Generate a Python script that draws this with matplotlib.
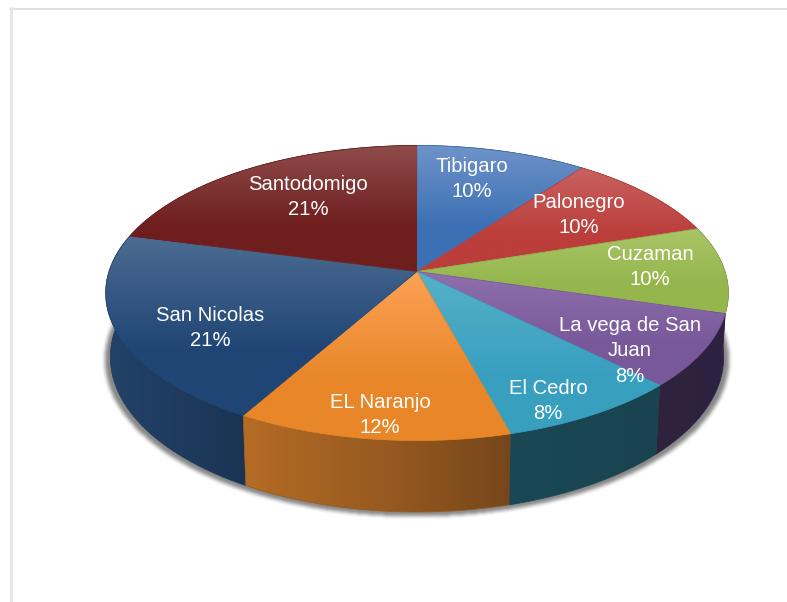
"""Perspective 3D pie of the share per locality."""

import matplotlib

matplotlib.use("Agg")
import matplotlib.pyplot as plt
import numpy as np
from matplotlib.colors import LinearSegmentedColormap, to_hex, to_rgb
from matplotlib.lines import Line2D
from matplotlib.path import Path
from matplotlib.patches import PathPatch

plt.rcParams["font.family"] = ["Liberation Sans", "DejaVu Sans"]

NAMES = ["Tibigaro", "Palonegro", "Cuzaman", "La vega de San\nJuan", "El Cedro",
         "EL Naranjo", "San Nicolas", "Santodomigo"]
SHARES = [10.2, 9.8, 9.5, 8.0, 8.3, 12.4, 20.9, 20.9]
PERCENT_LABELS = ["10%", "10%", "10%", "8%", "8%", "12%", "21%", "21%"]
FACE_LIGHT = ["#6f93c9", "#c8625f", "#a9c668", "#8f70ad", "#56b1ca", "#fca256", "#4c6c92", "#8f4c4b"]
FACE_DARK = ["#3c70b4", "#bb3e3b", "#95b64d", "#785899", "#389fbf", "#e88628", "#1f4575", "#6e1e1d"]
# walls of the back slices never show, Cuzaman's only as a sliver beside La vega
WALL_LEFT = ["#2c4a72", "#6e2320", "#2d2140", "#30233f", "#1a4855", "#b56c25", "#224268", "#4d1615"]
WALL_RIGHT = ["#2c4a72", "#6e2320", "#2d2140", "#2d2140", "#18444f", "#76461a", "#1a3353", "#4d1615"]
LABEL_CENTERS = [(472, 179), (579, 215), (650, 267), (630, 351), (548, 401),
                 (380, 415), (210, 328), (308, 197)]

CX, CY = 417.0, 271.5
TILT = 0.1458
GX, GY = 308.0, 144.4


def rim(theta):
    # theta is clockwise from 12 o'clock, on the perspective circle
    u, v = np.sin(theta), np.cos(theta)
    return CX + GX * u / (1 + TILT * v), CY - GY * v / (1 + TILT * v)


def lower(x, y):
    return CX + 0.985 * (x - CX), CY + 63 + 1.05 * (y - CY)


def gradient_fill(ax, xs, ys, colors, stop=0.55, horizontal=False, zorder=2):
    path = Path(np.column_stack([xs, ys]))
    cmap = LinearSegmentedColormap.from_list("g", list(zip([0, stop, 1], colors)))
    ramp = np.linspace(0, 1, 128)
    ramp = ramp[None, :] if horizontal else ramp[:, None]
    extent = (min(xs), max(xs), max(ys), min(ys))
    image = ax.imshow(ramp, cmap=cmap, extent=extent, aspect="auto", zorder=zorder,
                      interpolation="bilinear", vmin=0, vmax=1)
    patch = PathPatch(path, transform=ax.transData, facecolor="none",
                      edgecolor=colors[1], linewidth=0.5, zorder=zorder)
    ax.add_patch(patch)
    image.set_clip_path(patch)


def blur(mask, width):
    kernel = np.hanning(width)
    kernel /= kernel.sum()
    mask = np.apply_along_axis(np.convolve, 0, mask, kernel, mode="same")
    return np.apply_along_axis(np.convolve, 1, mask, kernel, mode="same")


def main():
    fig = plt.figure(figsize=(7.87, 6.02), dpi=100)
    ax = fig.add_axes([0, 0, 1, 1])
    ax.axis("off")

    edges = 2 * np.pi * np.concatenate([[0], np.cumsum(SHARES)]) / sum(SHARES)

    # soft shadow under the base
    circle = np.linspace(0, 2 * np.pi, 361)
    base_x, base_y = lower(*rim(circle))
    shadow_x = CX + 1.018 * (base_x - CX)
    shadow_y = CY + 1.01 * (base_y - CY) + 2
    grid_x, grid_y = np.meshgrid(np.arange(787) + 0.5, np.arange(602) + 0.5)
    inside = Path(np.column_stack([shadow_x, shadow_y])).contains_points(
        np.column_stack([grid_x.ravel(), grid_y.ravel()])
    ).reshape(grid_x.shape)
    alpha = blur(inside.astype(float), 11) * 0.62
    rgba = np.zeros((602, 787, 4))
    rgba[..., :3] = 0.25
    rgba[..., 3] = alpha
    ax.imshow(rgba, extent=(0, 787, 602, 0), aspect="auto", zorder=1)

    # side walls first, back to front; the top faces cover whatever is at the back
    mid_angles = (edges[:-1] + edges[1:]) / 2
    for i in np.argsort(-np.cos(mid_angles)):
        theta = np.linspace(edges[i], edges[i + 1], 80)
        x_top, y_top = rim(theta)
        x_low, y_low = lower(x_top, y_top)
        xs = np.concatenate([x_top, x_low[::-1]])
        ys = np.concatenate([y_top, y_low[::-1]])
        blend = to_hex((np.array(to_rgb(WALL_LEFT[i])) + to_rgb(WALL_RIGHT[i])) / 2)
        gradient_fill(ax, xs, ys, [WALL_LEFT[i], blend, WALL_RIGHT[i]], horizontal=True)

    for i in range(len(SHARES)):
        theta = np.linspace(edges[i], edges[i + 1], 80)
        x_top, y_top = rim(theta)
        xs = np.concatenate([[CX], x_top])
        ys = np.concatenate([[CY], y_top])
        gradient_fill(ax, xs, ys, [FACE_LIGHT[i], FACE_DARK[i], FACE_DARK[i]], stop=0.65, zorder=3)

    for name, percent, (x, y) in zip(NAMES, PERCENT_LABELS, LABEL_CENTERS):
        ax.text(x, y, f"{name}\n{percent}", color="white", fontsize=14.6, ha="center",
                va="center", linespacing=1.42, zorder=5)

    ax.add_line(Line2D([10, 787], [8.5, 8.5], color="#dcdcdc", linewidth=1.2, zorder=6))
    ax.add_line(Line2D([10.8, 10.8], [8, 602], color="#e6e6e6", linewidth=2, zorder=6))
    ax.set_xlim(0, 787)
    ax.set_ylim(602, 0)
    fig.savefig("out.png", dpi=100)


if __name__ == "__main__":
    main()
